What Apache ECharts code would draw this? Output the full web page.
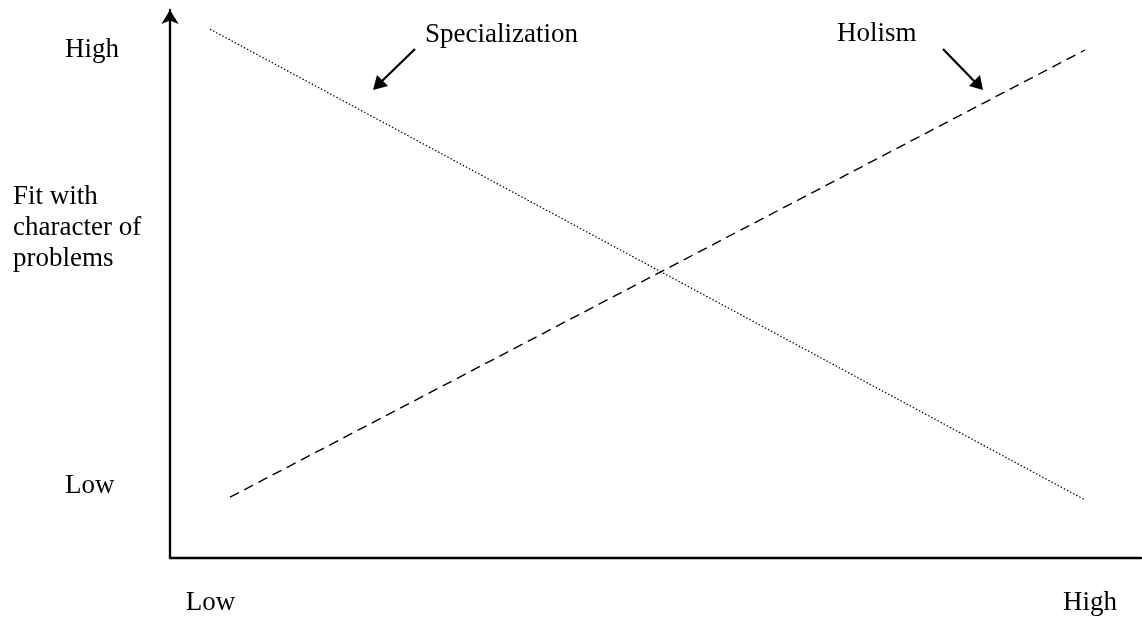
<!DOCTYPE html>
<html>
<head>
<meta charset="utf-8">
<script src="https://cdn.jsdelivr.net/npm/echarts@6/dist/echarts.min.js"></script>
<style>
html,body{margin:0;padding:0;background:#fff;}
#c{width:1142px;height:621px;}
</style>
</head>
<body>
<div id="c"></div>
<script>
// Data (abstract 0–100 scale)
const xTickValues = [4.17, 94.75];
const xTickLabels = ['Low', 'High'];
const yTickValues = [13.1, 92.7];
const yTickLabels = ['Low', 'High'];
const specializationX = [4.12, 94.23];
const specializationY = [96.5, 10.6];
const holismX = [6.18, 94.23];
const holismY = [11.1, 92.7];
const yAxisTitle = 'Fit with\ncharacter of\nproblems';
const seriesNames = ['Specialization', 'Holism'];

const font = '"Liberation Serif", "Times New Roman", serif';
const FS = 27;
const chart = echarts.init(document.getElementById('c'));

function pairs(xs, ys) { return xs.map((x, i) => [x, ys[i]]); }

chart.setOption({
  animation: false,
  backgroundColor: '#fff',
  grid: { left: 170, right: 1, top: 10, bottom: 63 },
  xAxis: {
    type: 'value', min: 0, max: 100,
    splitLine: { show: false },
    axisLine: { show: true, lineStyle: { color: '#000', width: 2.3 } },
    axisTick: { show: false },
    axisLabel: {
      customValues: xTickValues,
      formatter: v => xTickLabels[xTickValues.indexOf(v)] || '',
      color: '#000', fontFamily: font, fontSize: FS, margin: 31
    }
  },
  yAxis: {
    type: 'value', min: 0, max: 100,
    splitLine: { show: false },
    axisLine: { show: true, symbol: ['none', 'arrow'], symbolSize: [13, 14], symbolOffset: [0, 0],
      lineStyle: { color: '#000', width: 2.3 } },
    axisTick: { show: false },
    axisLabel: {
      customValues: yTickValues,
      formatter: v => yTickLabels[yTickValues.indexOf(v)] || '',
      color: '#000', fontFamily: font, fontSize: FS, margin: 105, align: 'left'
    }
  },
  series: [
    {
      name: seriesNames[0], type: 'line', data: pairs(specializationX, specializationY),
      symbol: 'none', lineStyle: { color: '#000', width: 1.2, type: [1.5, 2] }
    },
    {
      name: seriesNames[1], type: 'line', data: pairs(holismX, holismY),
      symbol: 'none', lineStyle: { color: '#000', width: 1.4, type: [10, 6] }
    }
  ],
  graphic: [
    { type: 'text', style: { x: 13, y: 181, text: yAxisTitle, font: FS + 'px ' + font, fill: '#000', lineHeight: 31, verticalAlign: 'top' } },
    { type: 'text', style: { x: 425, y: 35, text: seriesNames[0], font: FS + 'px ' + font, fill: '#000', verticalAlign: 'middle' } },
    { type: 'text', style: { x: 837, y: 34, text: seriesNames[1], font: FS + 'px ' + font, fill: '#000', verticalAlign: 'middle' } },
    { type: 'line', shape: { x1: 415, y1: 49, x2: 382, y2: 81 }, style: { stroke: '#000', lineWidth: 2.2 } },
    { type: 'polygon', shape: { points: [[373, 90], [377, 75], [388, 86]] }, style: { fill: '#000' } },
    { type: 'line', shape: { x1: 943, y1: 49, x2: 975, y2: 82 }, style: { stroke: '#000', lineWidth: 2.2 } },
    { type: 'polygon', shape: { points: [[983, 90], [969, 86], [980, 75]] }, style: { fill: '#000' } }
  ]
});
</script>
</body>
</html>
